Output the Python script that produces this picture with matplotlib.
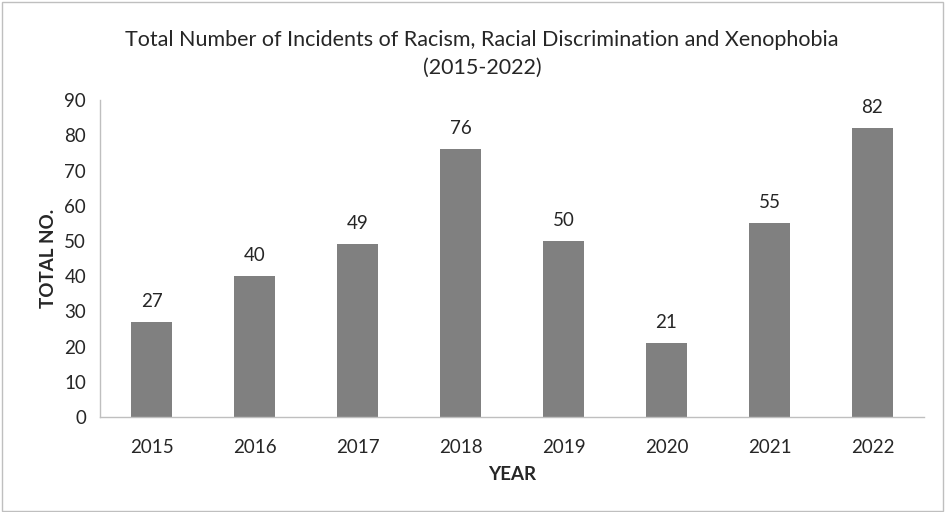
import matplotlib
matplotlib.use("Agg")
import matplotlib.pyplot as plt
from matplotlib.patches import Rectangle

years = ["2015", "2016", "2017", "2018", "2019", "2020", "2021", "2022"]
totals = [27, 40, 49, 76, 50, 21, 55, 82]
y_ticks = [0, 10, 20, 30, 40, 50, 60, 70, 80, 90]

plt.rcParams["font.family"] = ["Lato", "DejaVu Sans"]

fig = plt.figure(figsize=(9.46, 5.12), dpi=100)
ax = fig.add_axes([0.1057, 0.1855, 0.871, 0.619])

x = range(len(years))
bars = ax.bar(x, totals, width=0.4, color="#808080")
for xi, v in zip(x, totals):
    ax.text(xi, v + 3.5, str(v), ha="center", va="bottom", fontsize=13.5, color="#262626")

ax.set_xlim(-0.5, len(years) - 0.5)
ax.set_ylim(0, 90)
ax.set_yticks(y_ticks)
ax.set_xticks(list(x))
ax.set_xticklabels(years)
ax.tick_params(axis="both", length=0, labelsize=13.5, colors="#262626")
ax.tick_params(axis="x", pad=16)
ax.tick_params(axis="y", pad=10)

for side in ("top", "right"):
    ax.spines[side].set_visible(False)
for side in ("left", "bottom"):
    ax.spines[side].set_color("#bfbfbf")
    ax.spines[side].set_linewidth(1)

ax.set_xlabel("YEAR", fontsize=13.5, fontweight="bold", color="#262626", labelpad=7)
ax.set_ylabel("TOTAL NO.", fontsize=13.5, fontweight="bold", color="#262626", labelpad=5)

fig.text(0.5095, 0.895, "Total Number of Incidents of Racism, Racial Discrimination and Xenophobia\n(2015-2022)",
         ha="center", va="center", fontsize=15.5, color="#262626", linespacing=1.45)

fig.patches.append(Rectangle((0.002, 0.002), 0.995, 0.995, transform=fig.transFigure,
                             fill=False, edgecolor="#bfbfbf", linewidth=1))

fig.savefig("out.png", dpi=100)
